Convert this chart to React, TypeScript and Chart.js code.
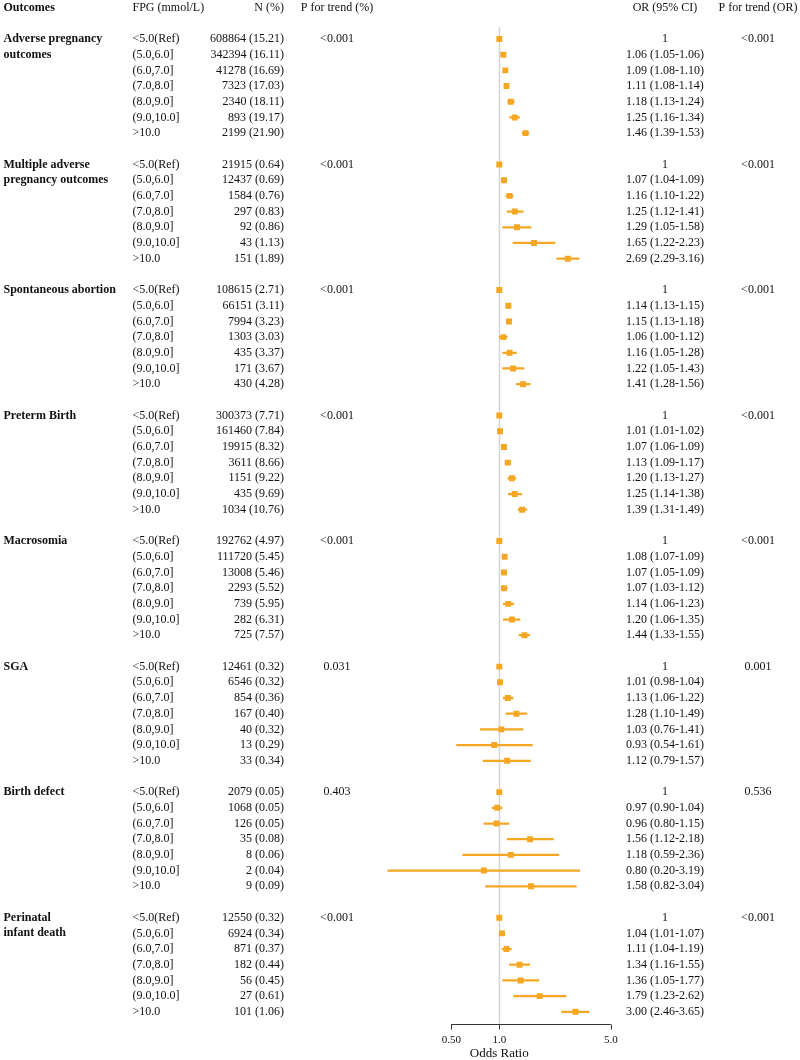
import React, { useEffect, useRef } from "react";
import { Chart, registerables } from "chart.js";

Chart.register(...registerables);

const outcomeLabelLines: string[][] = [
  ["Adverse pregnancy", "outcomes"],
  ["Multiple adverse", "pregnancy outcomes"],
  ["Spontaneous abortion"],
  ["Preterm Birth"],
  ["Macrosomia"],
  ["SGA"],
  ["Birth defect"],
  ["Perinatal", "infant death"],
];

const fpgCategories = ["<5.0(Ref)", "(5.0,6.0]", "(6.0,7.0]", "(7.0,8.0]", "(8.0,9.0]", "(9.0,10.0]", ">10.0"];

const nCounts: number[][] = [
  [608864, 342394, 41278, 7323, 2340, 893, 2199],
  [21915, 12437, 1584, 297, 92, 43, 151],
  [108615, 66151, 7994, 1303, 435, 171, 430],
  [300373, 161460, 19915, 3611, 1151, 435, 1034],
  [192762, 111720, 13008, 2293, 739, 282, 725],
  [12461, 6546, 854, 167, 40, 13, 33],
  [2079, 1068, 126, 35, 8, 2, 9],
  [12550, 6924, 871, 182, 56, 27, 101],
];

const nPercents: number[][] = [
  [15.21, 16.11, 16.69, 17.03, 18.11, 19.17, 21.9],
  [0.64, 0.69, 0.76, 0.83, 0.86, 1.13, 1.89],
  [2.71, 3.11, 3.23, 3.03, 3.37, 3.67, 4.28],
  [7.71, 7.84, 8.32, 8.66, 9.22, 9.69, 10.76],
  [4.97, 5.45, 5.46, 5.52, 5.95, 6.31, 7.57],
  [0.32, 0.32, 0.36, 0.4, 0.32, 0.29, 0.34],
  [0.05, 0.05, 0.05, 0.08, 0.06, 0.04, 0.09],
  [0.32, 0.34, 0.37, 0.44, 0.45, 0.61, 1.06],
];

const orEst: number[][] = [
  [1, 1.06, 1.09, 1.11, 1.18, 1.25, 1.46],
  [1, 1.07, 1.16, 1.25, 1.29, 1.65, 2.69],
  [1, 1.14, 1.15, 1.06, 1.16, 1.22, 1.41],
  [1, 1.01, 1.07, 1.13, 1.2, 1.25, 1.39],
  [1, 1.08, 1.07, 1.07, 1.14, 1.2, 1.44],
  [1, 1.01, 1.13, 1.28, 1.03, 0.93, 1.12],
  [1, 0.97, 0.96, 1.56, 1.18, 0.8, 1.58],
  [1, 1.04, 1.11, 1.34, 1.36, 1.79, 3.0],
];

const orLow: number[][] = [
  [1, 1.05, 1.08, 1.08, 1.13, 1.16, 1.39],
  [1, 1.04, 1.1, 1.12, 1.05, 1.22, 2.29],
  [1, 1.13, 1.13, 1.0, 1.05, 1.05, 1.28],
  [1, 1.01, 1.06, 1.09, 1.13, 1.14, 1.31],
  [1, 1.07, 1.05, 1.03, 1.06, 1.06, 1.33],
  [1, 0.98, 1.06, 1.1, 0.76, 0.54, 0.79],
  [1, 0.9, 0.8, 1.12, 0.59, 0.2, 0.82],
  [1, 1.01, 1.04, 1.16, 1.05, 1.23, 2.46],
];

const orHigh: number[][] = [
  [1, 1.06, 1.1, 1.14, 1.24, 1.34, 1.53],
  [1, 1.09, 1.22, 1.41, 1.58, 2.23, 3.16],
  [1, 1.15, 1.18, 1.12, 1.28, 1.43, 1.56],
  [1, 1.02, 1.09, 1.17, 1.27, 1.38, 1.49],
  [1, 1.09, 1.09, 1.12, 1.23, 1.35, 1.55],
  [1, 1.04, 1.22, 1.49, 1.41, 1.61, 1.57],
  [1, 1.04, 1.15, 2.18, 2.36, 3.19, 3.04],
  [1, 1.07, 1.19, 1.55, 1.77, 2.62, 3.65],
];

const pTrendPct = ["<0.001", "<0.001", "<0.001", "<0.001", "<0.001", "0.031", "0.403", "<0.001"];
const pTrendOR = ["<0.001", "<0.001", "<0.001", "<0.001", "<0.001", "0.001", "0.536", "<0.001"];

const axisTicks = [0.5, 1, 5];
const axisTickLabels = ["0.50", "1.0", "5.0"];

const ROWS_PER_GROUP = 8;
const ORANGE = "#F5A623";
const FONT = '"Liberation Serif", "Times New Roman", serif';

const rowIndex = (g: number, r: number) => g * ROWS_PER_GROUP + r;

const forestPlugin = {
  id: "forestText",
  beforeDatasetsDraw(chart: any) {
    const ctx = chart.ctx;
    const x = chart.scales.x;
    const y = chart.scales.y;
    const lastRow = rowIndex(outcomeLabelLines.length - 1, fpgCategories.length - 1);
    const px = Math.round(x.getPixelForValue(1)) + 0.5;
    ctx.save();
    ctx.strokeStyle = "#d4d4d4";
    ctx.lineWidth = 1.5;
    ctx.beginPath();
    ctx.moveTo(px, y.getPixelForValue(-0.75));
    ctx.lineTo(px, y.getPixelForValue(lastRow) + 12);
    ctx.stroke();
    ctx.restore();
  },
  afterDraw(chart: any) {
    const ctx = chart.ctx;
    const x = chart.scales.x;
    const y = chart.scales.y;
    ctx.save();
    ctx.fillStyle = "#111";
    ctx.textBaseline = "middle";
    const reg = `12px ${FONT}`;
    const bold = `bold 12px ${FONT}`;

    // header
    const hy = y.getPixelForValue(-2);
    ctx.font = bold;
    ctx.textAlign = "left";
    ctx.fillText("Outcomes", 3.5, hy);
    ctx.font = reg;
    ctx.fillText("FPG (mmol/L)", 132.5, hy);
    ctx.textAlign = "right";
    ctx.fillText("N (%)", 284, hy);
    ctx.textAlign = "center";
    ctx.fillText("P for trend (%)", 337, hy);
    ctx.fillText("OR (95% CI)", 665, hy);
    ctx.fillText("P for trend (OR)", 758, hy);

    outcomeLabelLines.forEach((lines, g) => {
      ctx.font = bold;
      ctx.textAlign = "left";
      lines.forEach((ln, k) => {
        ctx.fillText(ln, 3.5, y.getPixelForValue(rowIndex(g, k)));
      });
      ctx.font = reg;
      fpgCategories.forEach((cat, r) => {
        const py = y.getPixelForValue(rowIndex(g, r));
        ctx.textAlign = "left";
        ctx.fillText(cat, 132.5, py);
        ctx.textAlign = "right";
        ctx.fillText(`${nCounts[g][r]} (${nPercents[g][r].toFixed(2)})`, 284, py);
        ctx.textAlign = "center";
        const orText =
          r === 0
            ? "1"
            : `${orEst[g][r].toFixed(2)} (${orLow[g][r].toFixed(2)}-${orHigh[g][r].toFixed(2)})`;
        ctx.fillText(orText, 665, py);
      });
      const py0 = y.getPixelForValue(rowIndex(g, 0));
      ctx.textAlign = "center";
      ctx.fillText(pTrendPct[g], 337, py0);
      ctx.fillText(pTrendOR[g], 758, py0);
    });

    // axis
    const lastRow = rowIndex(outcomeLabelLines.length - 1, fpgCategories.length - 1);
    const ay = Math.round(y.getPixelForValue(lastRow) + 12) + 0.5;
    const x0 = x.getPixelForValue(axisTicks[0]);
    const x1 = x.getPixelForValue(axisTicks[axisTicks.length - 1]);
    ctx.strokeStyle = "#333";
    ctx.lineWidth = 1;
    ctx.beginPath();
    ctx.moveTo(x0, ay);
    ctx.lineTo(x1, ay);
    axisTicks.forEach((t) => {
      const tx = Math.round(x.getPixelForValue(t)) + 0.5;
      ctx.moveTo(tx, ay);
      ctx.lineTo(tx, ay + 5);
    });
    ctx.stroke();
    ctx.font = `11px ${FONT}`;
    ctx.textAlign = "center";
    axisTicks.forEach((t, i) => {
      ctx.fillText(axisTickLabels[i], x.getPixelForValue(t), ay + 16);
    });
    ctx.font = `13px ${FONT}`;
    ctx.fillText("Odds Ratio", x.getPixelForValue(1), ay + 29);
    ctx.restore();
  },
};

export default function App() {
  const ref = useRef<HTMLCanvasElement | null>(null);
  useEffect(() => {
    if (!ref.current) return;
    const ciData: any[] = [];
    const pointData: any[] = [];
    orEst.forEach((arr, g) => {
      arr.forEach((v, r) => {
        const idx = rowIndex(g, r);
        pointData.push({ x: v, y: idx });
        if (orHigh[g][r] > orLow[g][r]) ciData.push({ x: [orLow[g][r], orHigh[g][r]], y: idx });
      });
    });
    const chart = new Chart(ref.current, {
      type: "bar",
      data: {
        datasets: [
          {
            type: "scatter",
            data: pointData,
            pointStyle: "rect",
            pointRadius: 4.2,
            pointHoverRadius: 4.2,
            backgroundColor: ORANGE,
            borderWidth: 0,
            order: 0,
          } as any,
          {
            type: "bar",
            indexAxis: "y",
            data: ciData,
            backgroundColor: ORANGE,
            borderWidth: 0,
            barThickness: 1.6,
            order: 1,
          } as any,
        ],
      },
      options: {
        responsive: false,
        animation: false,
        events: [],
        layout: { padding: { left: 339.8, right: 141.2, top: 23.3, bottom: 32.5 } },
        plugins: { legend: { display: false }, tooltip: { enabled: false } },
        scales: {
          x: { type: "logarithmic", min: 0.1, max: 10, display: false, offset: false },
          y: { type: "linear", min: -1, max: 63, reverse: true, display: false, offset: false },
        },
      },
      plugins: [forestPlugin],
    });
    return () => chart.destroy();
  }, []);
  return (
    <div style={{ position: "fixed", left: 0, top: 0, width: 800, height: 1060, background: "#fff" }}>
      <canvas ref={ref} width={800} height={1060} style={{ display: "block" }} />
    </div>
  );
}
